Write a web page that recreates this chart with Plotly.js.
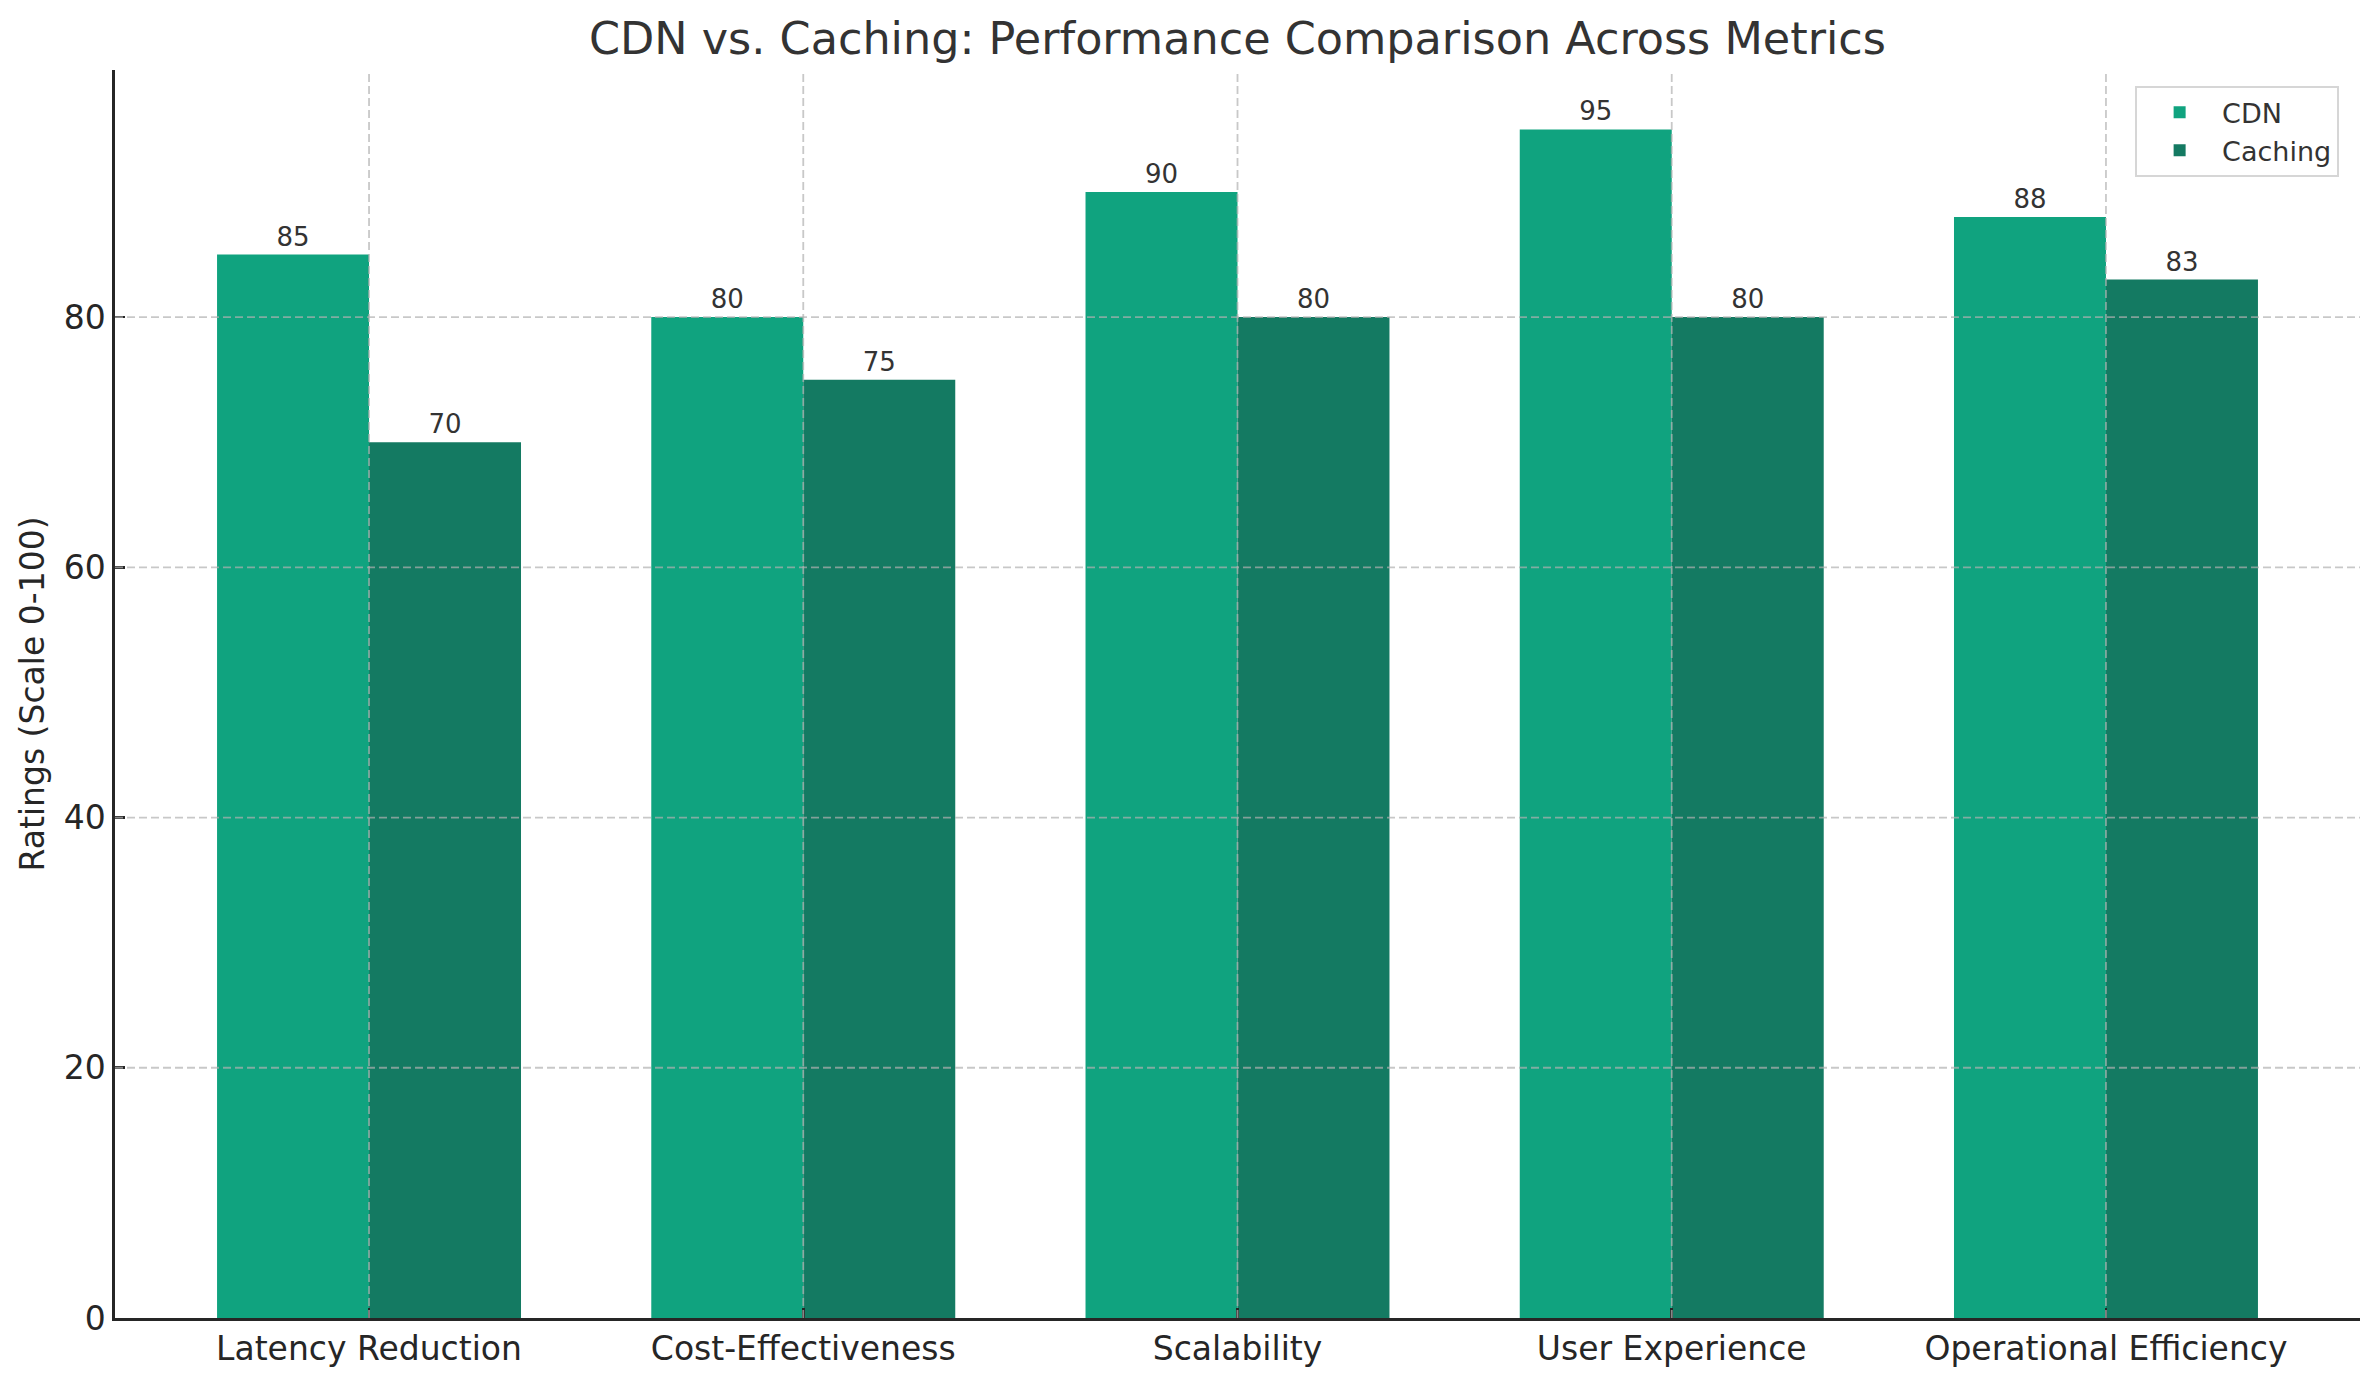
<!DOCTYPE html>
<html>
<head>
<meta charset="utf-8">
<script src="https://cdn.plot.ly/plotly-3.0.1.min.js"></script>
<style>
  html, body { margin: 0; padding: 0; background: #fff; }
  #chart { width: 2379px; height: 1380px; }
</style>
</head>
<body>
<div id="chart"></div>
<script>
// Metrics compared
var categories = ["Latency Reduction", "Cost-Effectiveness", "Scalability", "User Experience", "Operational Efficiency"];

// Ratings per approach (scale 0-100)
var cdnRatings = [85, 80, 90, 95, 88];
var cachingRatings = [70, 75, 80, 80, 83];

// Y axis ticks
var yTicks = [0, 20, 40, 60, 80];

var font = "DejaVu Sans, sans-serif";
var gridColor = "rgba(176,176,176,0.7)";

var cdn = {
  x: categories,
  y: cdnRatings,
  name: "CDN",
  type: "bar",
  marker: { color: "#10a37f" },
  text: cdnRatings.map(String),
  textposition: "outside",
  textfont: { family: font, size: 26, color: "#333333" },
  cliponaxis: false
};

var caching = {
  x: categories,
  y: cachingRatings,
  name: "Caching",
  type: "bar",
  marker: { color: "#147a62" },
  text: cachingRatings.map(String),
  textposition: "outside",
  textfont: { family: font, size: 26, color: "#333333" },
  cliponaxis: false
};

// matplotlib draws its grid over the bars, so the grid is made of shapes on top
var gridShapes = [];
categories.forEach(function (c) {
  gridShapes.push({
    type: "line", layer: "above", xref: "x", yref: "paper",
    x0: c, x1: c, y0: 0, y1: 1,
    line: { color: gridColor, width: 1.8, dash: "8px,4px" }
  });
});
yTicks.slice(1).forEach(function (v) {
  gridShapes.push({
    type: "line", layer: "above", xref: "paper", yref: "y",
    x0: 0, x1: 1, y0: v, y1: v,
    line: { color: gridColor, width: 1.8, dash: "8px,4px" }
  });
});

var layout = {
  width: 2379,
  height: 1380,
  margin: { l: 115, r: 19, t: 70, b: 62 },
  paper_bgcolor: "#ffffff",
  plot_bgcolor: "#ffffff",
  font: { family: font, color: "#262626" },
  title: {
    text: "CDN vs. Caching: Performance Comparison Across Metrics",
    font: { family: font, size: 44.5, color: "#333333" },
    x: 0.5, xref: "paper", xanchor: "center",
    y: 0.972, yanchor: "middle"
  },
  barmode: "group",
  bargap: 0.3,
  bargroupgap: 0,
  showlegend: true,
  legend: {
    x: 0.9907, xanchor: "right",
    y: 0.987, yanchor: "top",
    bgcolor: "#ffffff",
    bordercolor: "#d6d6d6",
    borderwidth: 2,
    itemwidth: 75,
    font: { family: font, size: 27, color: "#333333" }
  },
  xaxis: {
    type: "category",
    range: [-0.585, 4.585],
    showgrid: false,
    showline: true,
    linecolor: "#262626",
    linewidth: 2.6,
    ticks: "inside",
    ticklen: 10,
    tickwidth: 2.6,
    tickcolor: "#262626",
    tickfont: { family: font, size: 33, color: "#262626" },
    zeroline: false
  },
  yaxis: {
    range: [0, 99.75],
    tickvals: yTicks,
    showgrid: false,
    showline: true,
    linecolor: "#262626",
    linewidth: 2.6,
    ticks: "inside",
    ticklen: 10,
    tickwidth: 2.6,
    tickcolor: "#262626",
    tickfont: { family: font, size: 33, color: "#262626" },
    zeroline: false,
    title: {
      text: "Ratings (Scale 0-100)",
      font: { family: font, size: 33, color: "#262626" },
      standoff: 10
    }
  },
  shapes: gridShapes
};

Plotly.newPlot("chart", [cdn, caching], layout, { displayModeBar: false, staticPlot: true });
</script>
</body>
</html>
